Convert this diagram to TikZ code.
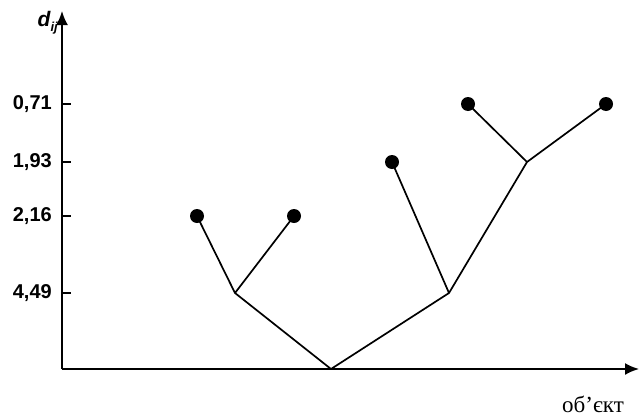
\documentclass[tikz,border=0pt]{standalone}
\usepackage{fontspec}
\setmainfont{Liberation Serif}
\setsansfont{Liberation Sans}
\usetikzlibrary{arrows.meta}

\begin{document}
\begin{tikzpicture}[x=1pt,y=-1pt,
  leaf/.style={circle,fill=black,inner sep=0pt,minimum size=14pt},
  branch/.style={line width=1.7pt,line join=round},
  ticklbl/.style={font=\sffamily\bfseries\fontsize{20}{20}\selectfont,anchor=east,inner sep=0pt}]
  \useasboundingbox (0,0) rectangle (640,418);

  %% axes
  \coordinate (O) at (62,369);
  \coordinate (ytop) at (62,11);
  \coordinate (xend) at (639,369);
  \draw[line width=2pt,-{Latex[length=14pt,width=12pt]}] (O) -- (ytop);
  \draw[line width=2pt,-{Latex[length=14pt,width=12pt]}] (O) -- (xend);
  \node[anchor=east,inner sep=0pt,font=\sffamily\bfseries\itshape\fontsize{21}{21}\selectfont]
    (dij) at (58,23) {d\raisebox{-5pt}{\fontsize{13}{13}\selectfont ij}};
  \node[anchor=north east,inner sep=0pt,font=\fontsize{23}{23}\selectfont]
    (obj) at (624,396) {об’єкт};

  %% axis ticks
  \foreach \y/\lab in {104/{0,71},162/{1,93},216/{2,16},293/{4,49}} {
    \draw[line width=1.6pt] (62,\y) -- (71,\y);
    \node[ticklbl] at (52,\y) {\lab};
  }

  %% dendrogram
  \coordinate (root) at (331,369);
  \coordinate (n1) at (235,293);
  \coordinate (n2) at (449,293);
  \coordinate (n3) at (527,162);
  \node[leaf] (a) at (197,216) {};
  \node[leaf] (b) at (294,216) {};
  \node[leaf] (c) at (392,162) {};
  \node[leaf] (d) at (468,104) {};
  \node[leaf] (e) at (606,104) {};

  \draw[branch] (a.center) -- (n1) -- (b.center);
  \draw[branch] (n1) -- (root) -- (n2);
  \draw[branch] (c.center) -- (n2) -- (n3);
  \draw[branch] (d.center) -- (n3) -- (e.center);
\end{tikzpicture}
\end{document}
